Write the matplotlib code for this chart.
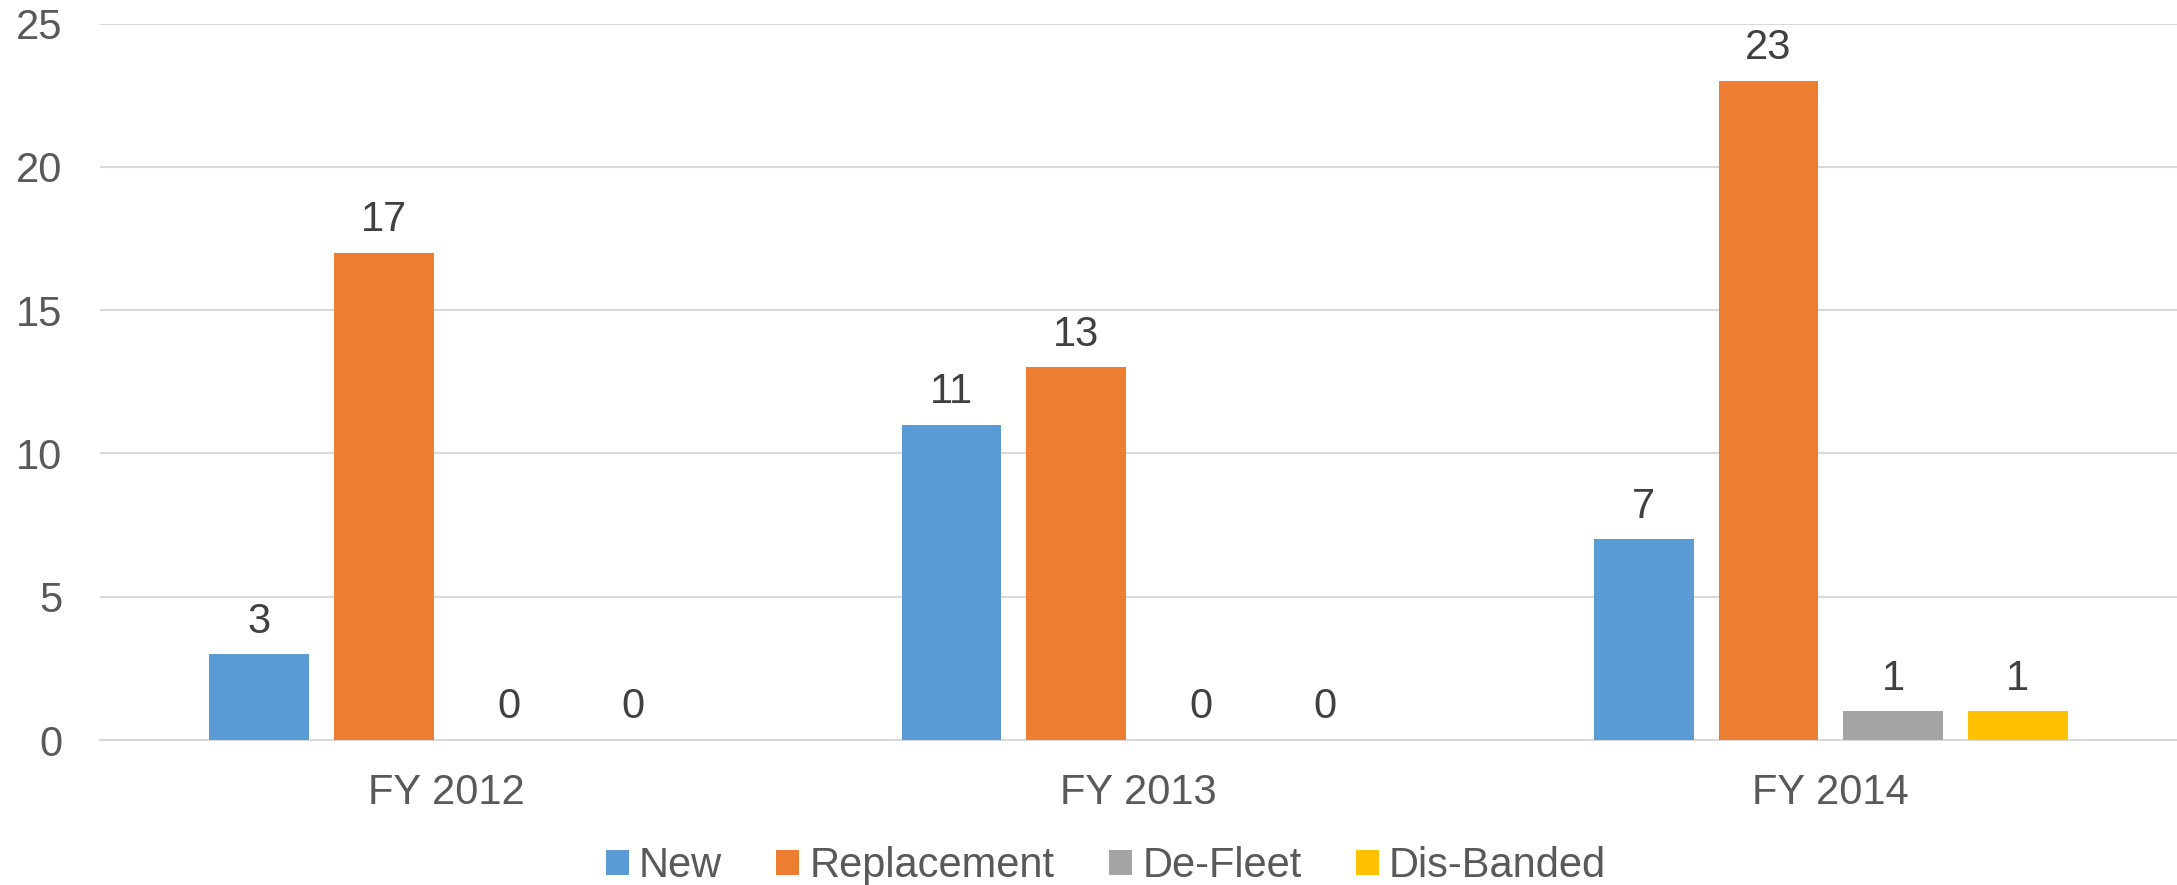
import numpy as np
import matplotlib.pyplot as plt

# Data
years = ["FY 2012", "FY 2013", "FY 2014"]
series_names = ["New", "Replacement", "De-Fleet", "Dis-Banded"]
new_vals = [3, 11, 7]
replacement_vals = [17, 13, 23]
defleet_vals = [0, 0, 1]
disbanded_vals = [0, 0, 1]
colors = ["#5B9BD5", "#ED7D31", "#A5A5A5", "#FFC000"]

plt.rcParams['font.family'] = ['Liberation Sans', 'DejaVu Sans']

fig = plt.figure(figsize=(21.77, 8.85), dpi=100)
ax = fig.add_axes([100 / 2177, 1 - 740 / 885, 2077 / 2177, (740 - 23.6) / 885])

x = np.arange(len(years))
width = 0.144
step = 0.18
all_vals = [new_vals, replacement_vals, defleet_vals, disbanded_vals]
for i, (name, vals, col) in enumerate(zip(series_names, all_vals, colors)):
    bars = ax.bar(x + (i - 1.5) * step, vals, width, color=col, label=name, zorder=3)
    ax.bar_label(bars, padding=9, fontsize=30, color="#404040")

ax.set_xlim(-0.5, 2.5)
ax.set_ylim(0, 25)
ax.set_yticks([0, 5, 10, 15, 20, 25])
ax.set_xticks(x)
ax.set_xticklabels(years)
ax.tick_params(axis='both', length=0, labelsize=30, labelcolor="#595959")
ax.tick_params(axis='x', pad=24)
ax.tick_params(axis='y', pad=27)
ax.grid(axis='y', color="#D9D9D9", linewidth=1.5, zorder=0)
for side in ["top", "right", "left"]:
    ax.spines[side].set_visible(False)
ax.spines["bottom"].set_color("#D9D9D9")
ax.spines["bottom"].set_linewidth(1.5)

fig.legend(loc='lower center', bbox_to_anchor=(0.508, -0.044), ncol=4, frameon=False,
           fontsize=30, labelcolor="#595959", handlelength=0.55, handleheight=0.55,
           handletextpad=0.25, columnspacing=1.3)

fig.savefig("out.png", dpi=100)
